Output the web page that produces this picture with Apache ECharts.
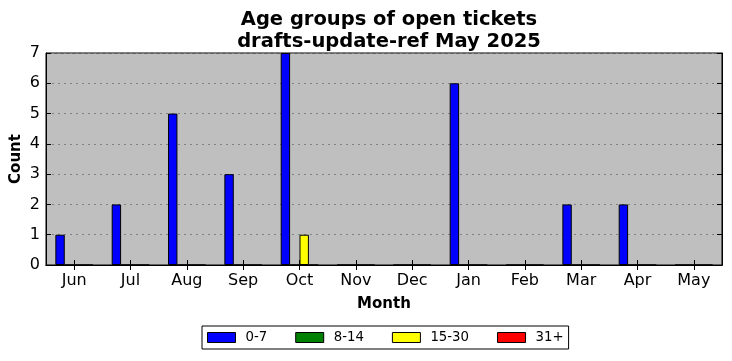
<!DOCTYPE html>
<html>
<head>
<meta charset="utf-8">
<script src="https://cdn.jsdelivr.net/npm/echarts@6/dist/echarts.min.js"></script>
<style>html,body{margin:0;padding:0;background:#fff;}#c{width:732px;height:361px;}</style>
</head>
<body>
<div id="c"></div>
<script>
const months = ['Jun','Jul','Aug','Sep','Oct','Nov','Dec','Jan','Feb','Mar','Apr','May'];
const age0_7 = [1,2,5,3,7,0,0,6,0,2,2,0];
const age8_14 = [0,0,0,0,0,0,0,0,0,0,0,0];
const age15_30 = [0,0,0,0,1,0,0,0,0,0,0,0];
const age31p = [0,0,0,0,0,0,0,0,0,0,0,0];
const yTicks = [0,1,2,3,4,5,6,7];

const FONT = 'DejaVu Sans';
const chart = echarts.init(document.getElementById('c'), null, {renderer:'canvas'});
function bar(name, data, color){
  return {name, type:'bar', data, barWidth:9.4, barGap:'0%',
    itemStyle:{color, borderColor:'#000', borderWidth:1}, animation:false};
}
chart.setOption({
  animation:false,
  textStyle:{fontFamily:FONT, color:'#000'},
  title:{text:'Age groups of open tickets\ndrafts-update-ref May 2025', left:384, textAlign:'center', top:4,
    textStyle:{fontFamily:FONT, fontSize:19.5, fontWeight:'bold', color:'#000', lineHeight:22}},
  grid:{left:46, right:10, top:53, bottom:96, show:true, backgroundColor:'#bfbfbf', borderColor:'#000', borderWidth:1,
    containLabel:false, outerBoundsMode:'none'},
  legend:{top:326, left:202, itemWidth:28, itemHeight:10, itemGap:28,
    borderColor:'#000', borderWidth:1, padding:[5,5,5,5], backgroundColor:'#fff',
    icon:'rect', textStyle:{fontFamily:FONT, fontSize:13.3, color:'#000', padding:[0,0,0,5]},
    itemStyle:{borderColor:'#000', borderWidth:1},
    data:['0-7','8-14','15-30','31+']},
  xAxis:[{type:'category', data:months, position:'bottom',
    name:'Month', nameLocation:'middle', nameGap:32, nameMoveOverlap:false,
    nameTextStyle:{fontFamily:FONT, fontSize:15, fontWeight:'bold', color:'#000'},
    axisLine:{show:true, lineStyle:{color:'#000'}},
    axisTick:{show:true, inside:true, alignWithLabel:true, length:5, lineStyle:{color:'#000'}},
    axisLabel:{fontFamily:FONT, fontSize:16, color:'#000', margin:8},
    splitLine:{show:false}},
   {type:'category', data:months, position:'top',
    axisLine:{show:true, lineStyle:{color:'#000'}},
    axisTick:{show:true, inside:true, alignWithLabel:true, length:5, lineStyle:{color:'#000'}},
    axisLabel:{show:false}}],
  yAxis:[{type:'value', min:0, max:7, interval:1,
    name:'Count', nameLocation:'middle', nameGap:22, nameMoveOverlap:false,
    nameTextStyle:{fontFamily:FONT, fontSize:15, fontWeight:'bold', color:'#000'},
    axisLine:{show:true, lineStyle:{color:'#000'}},
    axisTick:{show:true, inside:true, length:5, lineStyle:{color:'#000'}},
    axisLabel:{fontFamily:FONT, fontSize:16, color:'#000', margin:6,
      formatter:v=> yTicks.includes(v)? String(v):''},
    splitLine:{show:true, lineStyle:{color:'#808080', type:[2,4], width:1}}},
   {type:'value', min:0, max:7, interval:1, position:'right',
    axisLine:{show:true, lineStyle:{color:'#000'}},
    axisTick:{show:true, inside:true, length:5, lineStyle:{color:'#000'}},
    axisLabel:{show:false}, splitLine:{show:false}}],
  series:[
    bar('0-7', age0_7, '#0000ff'),
    bar('8-14', age8_14, '#008000'),
    bar('15-30', age15_30, '#ffff00'),
    bar('31+', age31p, '#ff0000')
  ]
});
</script>
</body>
</html>
